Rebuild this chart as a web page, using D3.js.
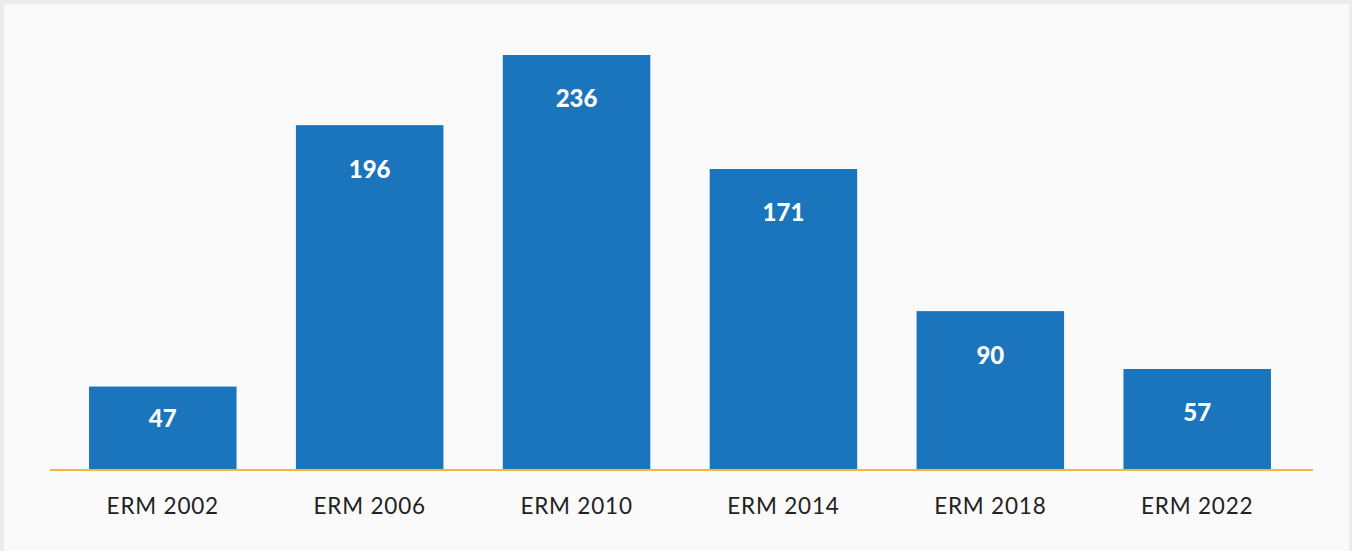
<!DOCTYPE html>
<html><head><meta charset="utf-8">
<script src="https://cdn.jsdelivr.net/npm/d3@7"></script>
<style>
html,body{margin:0;padding:0;background:#ececec;}
svg{display:block;}
</style></head>
<body>
<svg id="chart" width="1352" height="551"></svg>
<script>
const categories = ["ERM 2002","ERM 2006","ERM 2010","ERM 2014","ERM 2018","ERM 2022"];
const values = [47,196,236,171,90,57];

const W = 1352, H = 551;
const svg = d3.select("#chart");
svg.append("rect").attr("x",4).attr("y",4).attr("width",1345).attr("height",H-4).attr("fill","#fafafa");

const baseline = 469;
const x = d3.scaleBand().domain(categories).range([58,1302]).paddingInner(0.287).paddingOuter(0.15);
const y = d3.scaleLinear().domain([0,236]).range([baseline,55]);

svg.append("g").selectAll("rect").data(values).join("rect")
  .attr("x",(d,i)=>x(categories[i]))
  .attr("width",x.bandwidth())
  .attr("y",d=>y(d))
  .attr("height",d=>baseline-y(d))
  .attr("fill","#1b75bc");

svg.append("g").selectAll("text").data(values).join("text")
  .attr("x",(d,i)=>x(categories[i])+x.bandwidth()/2)
  .attr("y",d=>Math.min(y(d)+44, baseline-50))
  .attr("dy","0.35em")
  .attr("text-anchor","middle")
  .attr("fill","#ffffff")
  .attr("font-family","Lato, sans-serif")
  .attr("font-weight","900")
  .attr("font-size",24)
  .text(d=>d);

const axis = d3.axisBottom(x).tickSize(0).tickPadding(0);
const gx = svg.append("g").attr("transform",`translate(0,${baseline+1})`).call(axis);
gx.select(".domain").remove();
gx.append("line").attr("x1",50).attr("x2",1313).attr("y1",0).attr("y2",0)
  .attr("stroke","#f5b541").attr("stroke-width",2);
gx.selectAll(".tick text")
  .attr("y",44).attr("dy",0)
  .attr("fill","#222222")
  .attr("font-family","Lato, sans-serif")
  .attr("letter-spacing","0.8px")
  .attr("font-size",22.5);
</script>
</body></html>
